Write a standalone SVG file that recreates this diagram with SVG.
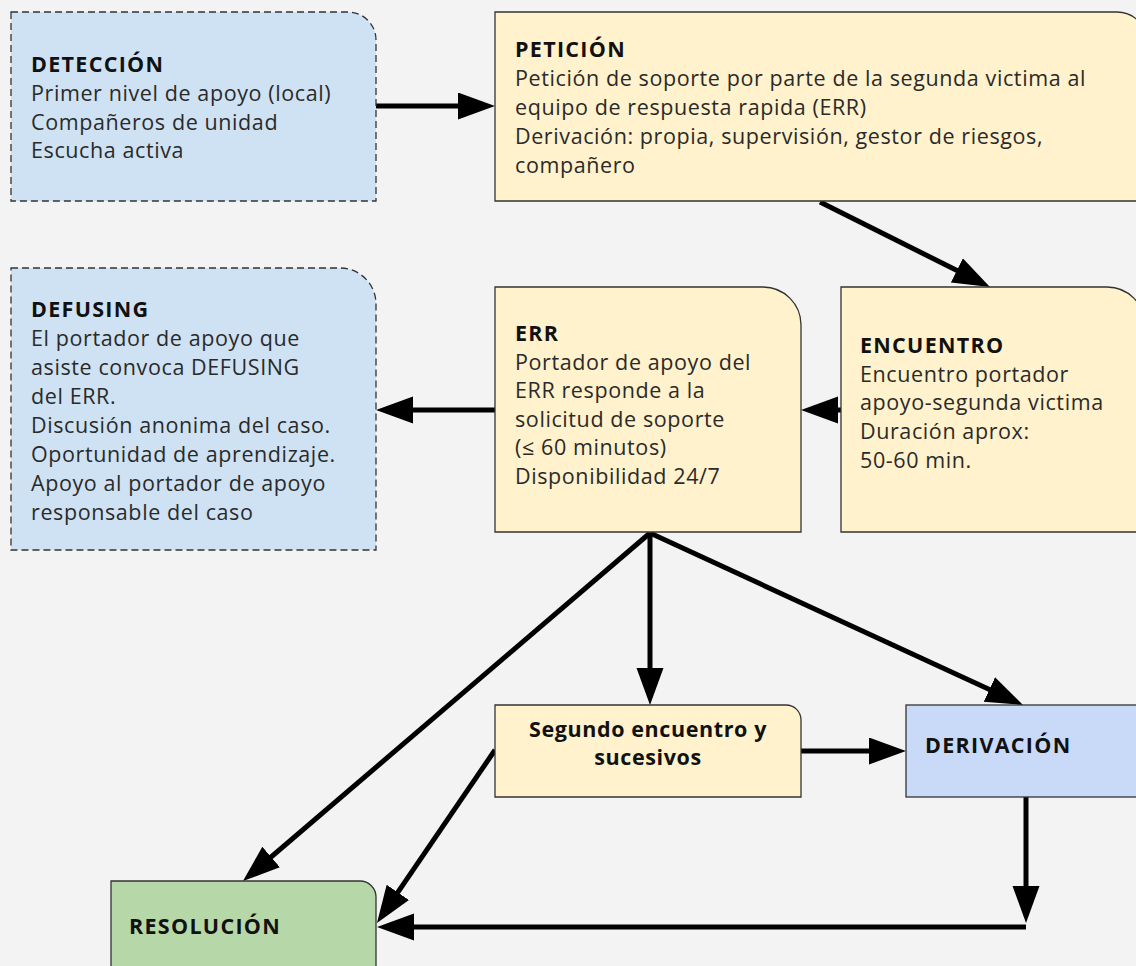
<svg xmlns="http://www.w3.org/2000/svg" width="1136" height="966" viewBox="0 0 1136 966">
<defs>
<marker id="ah" markerUnits="userSpaceOnUse" markerWidth="38" markerHeight="28" refX="27" refY="13.5" orient="auto">
<path d="M0,0 L37,13.5 L0,27 z" fill="#000"/>
</marker>
<style>
.n{stroke:#333;stroke-width:1.3}
.d{stroke-dasharray:7 4}
.blue{fill:#cfe2f3}
.yel{fill:#fff2cc}
.der{fill:#c9daf8}
.grn{fill:#b6d7a8}
text{font-family:"Open Sans",Lato,"Liberation Sans",sans-serif;font-size:21.5px;letter-spacing:0.6px;fill:#2a2a2a}
.t{font-weight:bold;fill:#111;letter-spacing:1.3px}
.s{letter-spacing:0.6px}
.c{stroke:#000;stroke-width:5;fill:none;marker-end:url(#ah)}
</style>
</defs>
<rect width="1136" height="966" fill="#f3f3f3"/>
<g id="connectors">
<line class="c" x1="376" y1="106" x2="485" y2="106"/>
<line class="c" x1="820" y1="202" x2="981" y2="282.5"/>
<line class="c" x1="841" y1="410" x2="811" y2="410"/>
<line class="c" x1="495" y1="410" x2="386" y2="410"/>
<line class="c" x1="650" y1="533" x2="250.6" y2="874.5"/>
<line class="c" x1="650" y1="533" x2="650" y2="695"/>
<line class="c" x1="650" y1="533" x2="1013.9" y2="700.8"/>
<line class="c" x1="495" y1="750" x2="382.6" y2="914.7"/>
<line class="c" x1="801" y1="751" x2="896" y2="751"/>
<line class="c" x1="1026" y1="797" x2="1026" y2="913"/>
<line class="c" x1="1026" y1="927" x2="387" y2="927"/>
</g>
<g id="deteccion">
<path class="n d blue" d="M11,12 H348 A28,28 0 0 1 376,40 V201 H11 Z"/>
<text x="31" y="72" class="t">DETECCIÓN</text>
<text x="31" y="101">Primer nivel de apoyo (local)</text>
<text x="31" y="130">Compañeros de unidad</text>
<text x="31" y="158">Escucha activa</text>
</g>
<g id="peticion">
<path class="n yel" d="M495,12 H1117 A30,30 0 0 1 1147,42 V201 H495 Z"/>
<text x="515" y="57" class="t">PETICIÓN</text>
<text x="515" y="86">Petición de soporte por parte de la segunda victima al</text>
<text x="515" y="115">equipo de respuesta rapida (ERR)</text>
<text x="515" y="144">Derivación: propia, supervisión, gestor de riesgos,</text>
<text x="515" y="173">compañero</text>
</g>
<g id="defusing">
<path class="n d blue" d="M11,268 H340 A36,36 0 0 1 376,304 V550 H11 Z"/>
<text x="31" y="317" class="t">DEFUSING</text>
<text x="31" y="346">El portador de apoyo que</text>
<text x="31" y="375">asiste convoca DEFUSING</text>
<text x="31" y="404">del ERR.</text>
<text x="31" y="433">Discusión anonima del caso.</text>
<text x="31" y="462">Oportunidad de aprendizaje.</text>
<text x="31" y="491">Apoyo al portador de apoyo</text>
<text x="31" y="520">responsable del caso</text>
</g>
<g id="err">
<path class="n yel" d="M495,287 H763 A38,38 0 0 1 801,325 V532 H495 Z"/>
<text x="515" y="341" class="t">ERR</text>
<text x="515" y="370">Portador de apoyo del</text>
<text x="515" y="398">ERR responde a la</text>
<text x="515" y="427">solicitud de soporte</text>
<text x="515" y="455">(≤ 60 minutos)</text>
<text x="515" y="484">Disponibilidad 24/7</text>
</g>
<g id="encuentro">
<path class="n yel" d="M841,287 H1107 A38,38 0 0 1 1145,325 V532 H841 Z"/>
<text x="860" y="353" class="t">ENCUENTRO</text>
<text x="860" y="382">Encuentro portador</text>
<text x="860" y="410">apoyo-segunda victima</text>
<text x="860" y="439">Duración aprox:</text>
<text x="860" y="468">50-60 min.</text>
</g>
<g id="segundo">
<path class="n yel" d="M495,705 H786 A15,15 0 0 1 801,720 V797 H495 Z"/>
<text x="648" y="737" class="t s" text-anchor="middle">Segundo encuentro y</text>
<text x="648" y="765" class="t s" text-anchor="middle">sucesivos</text>
</g>
<g id="derivacion">
<rect class="n der" x="906" y="705" width="245" height="92"/>
<text x="925" y="753" class="t">DERIVACIÓN</text>
</g>
<g id="resolucion">
<path class="n grn" d="M111,881 H360 A16,16 0 0 1 376,897 V980 H111 Z"/>
<text x="129" y="934" class="t">RESOLUCIÓN</text>
</g>
</svg>
